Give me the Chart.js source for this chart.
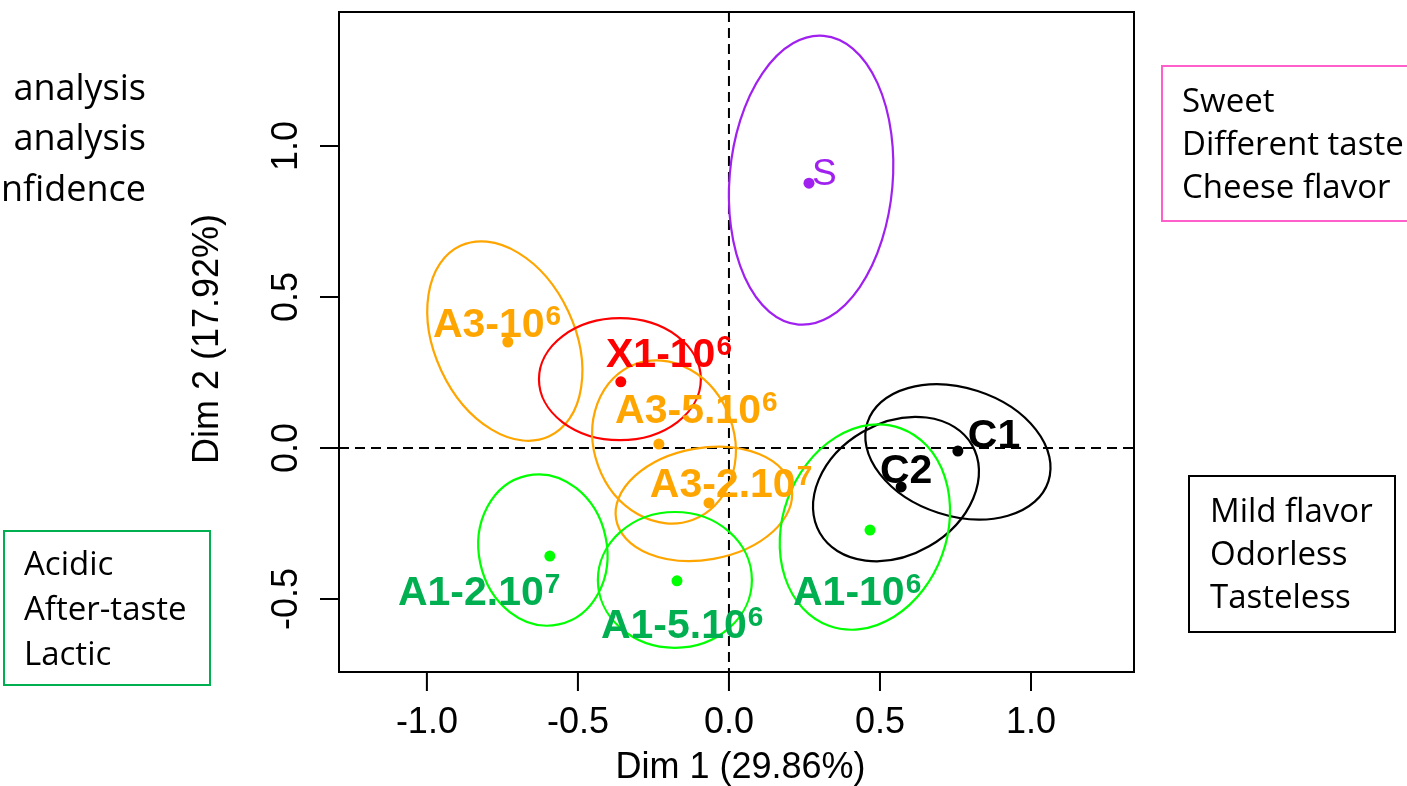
<!DOCTYPE html>
<html>
<head>
<meta charset="utf-8">
<script src="https://cdn.jsdelivr.net/npm/chart.js@4.4.0/dist/chart.umd.min.js"></script>
<style>
  html, body { margin: 0; padding: 0; background: #fff; overflow: hidden; }
  canvas { display: block; }
</style>
</head>
<body>
<canvas id="c" width="1407" height="786"></canvas>
<script>
// individuals on the factor map
const names  = ['S', 'A3-10', 'X1-10', 'A3-5.10', 'A3-2.10', 'C1', 'C2', 'A1-10', 'A1-2.10', 'A1-5.10'];
const powers = ['', '6', '6', '6', '7', '', '', '6', '7', '6'];
const groups = ['S', 'A3', 'X1', 'A3', 'A3', 'C', 'C', 'A1', 'A1', 'A1'];
const dim1   = [0.265, -0.732, -0.358, -0.232, -0.066, 0.758, 0.570, 0.467, -0.593, -0.172];
const dim2   = [0.877, 0.351, 0.219, 0.013, -0.182, -0.010, -0.129, -0.272, -0.358, -0.440];

// confidence ellipses: centre, semi axes, rotation in degrees
const ellX   = [0.272, -0.742, -0.361, -0.215, -0.083, 0.758, 0.553, 0.450, -0.616, -0.179];
const ellY   = [0.887, 0.354, 0.228, 0.020, -0.185, -0.013, -0.136, -0.262, -0.338, -0.437];
const ellA   = [0.270, 0.232, 0.268, 0.232, 0.295, 0.315, 0.291, 0.272, 0.212, 0.255];
const ellB   = [0.480, 0.348, 0.202, 0.275, 0.185, 0.212, 0.219, 0.348, 0.252, 0.225];
const ellAng = [-5, 25, 0, 20, 10, -18, 30, -20, 12, 0];

// where each label starts (left edge, baseline)
const labX   = [0.275, -0.980, -0.407, -0.377, -0.262, 0.791, 0.500, 0.212, -1.096, -0.424];
const labY   = [0.871, 0.368, 0.268, 0.083, -0.162, 0.000, -0.116, -0.520, -0.520, -0.629];

const xTicks = [-1.0, -0.5, 0.0, 0.5, 1.0];
const yTicks = [-0.5, 0.0, 0.5, 1.0];

const pointCol = { S: '#A020F0', A3: '#FFA500', X1: '#FF0000', C: '#000000', A1: '#00FF00' };
const labelCol = { S: '#A020F0', A3: '#FFA500', X1: '#FF0000', C: '#000000', A1: '#00B050' };

const AXFONT = '36px "Liberation Sans", Arial, sans-serif';
const TXFONT = '"Open Sans", sans-serif';

const mapPlugin = {
    id: 'factormap',
    beforeDatasetsDraw(chart) {
        const ctx = chart.ctx, a = chart.chartArea;
        const x = chart.scales.x, y = chart.scales.y;
        ctx.save();
        ctx.beginPath();
        ctx.rect(a.left, a.top, a.right - a.left, a.bottom - a.top);
        ctx.clip();

        // dashed origin lines
        ctx.strokeStyle = '#000';
        ctx.lineWidth = 2;
        ctx.setLineDash([10, 6]);
        ctx.beginPath();
        ctx.moveTo(x.getPixelForValue(0), a.top);
        ctx.lineTo(x.getPixelForValue(0), a.bottom);
        ctx.moveTo(a.left, y.getPixelForValue(0));
        ctx.lineTo(a.right, y.getPixelForValue(0));
        ctx.stroke();
        ctx.setLineDash([]);

        const sx = x.getPixelForValue(1) - x.getPixelForValue(0);
        const sy = y.getPixelForValue(0) - y.getPixelForValue(1);
        for (let i = 0; i < names.length; i++) {
            ctx.save();
            ctx.translate(x.getPixelForValue(ellX[i]), y.getPixelForValue(ellY[i]));
            ctx.scale(sx, -sy);
            ctx.rotate(ellAng[i] * Math.PI / 180);
            ctx.beginPath();
            ctx.ellipse(0, 0, ellA[i], ellB[i], 0, 0, 2 * Math.PI);
            ctx.restore();
            ctx.strokeStyle = pointCol[groups[i]];
            ctx.lineWidth = 2.2;
            ctx.stroke();
        }
        ctx.restore();
    },
    afterDatasetsDraw(chart) {
        const ctx = chart.ctx;
        const x = chart.scales.x, y = chart.scales.y;
        ctx.save();
        ctx.textBaseline = 'alphabetic';
        ctx.textAlign = 'left';
        for (let i = 0; i < names.length; i++) {
            const px = x.getPixelForValue(labX[i]);
            const py = y.getPixelForValue(labY[i]);
            ctx.fillStyle = labelCol[groups[i]];
            ctx.font = groups[i] === 'S'
                ? '37px "Liberation Sans", Arial, sans-serif'
                : 'bold 41px "Liberation Sans", Arial, sans-serif';
            ctx.fillText(names[i], px, py);
            if (powers[i]) {
                const w = ctx.measureText(names[i]).width;
                ctx.font = 'bold 28px "Liberation Sans", Arial, sans-serif';
                ctx.fillText(powers[i], px + w + 1, py - 12);
            }
        }
        ctx.restore();
    },
    afterDraw(chart) {
        const ctx = chart.ctx, a = chart.chartArea;
        const x = chart.scales.x, y = chart.scales.y;
        ctx.save();
        ctx.strokeStyle = '#000';
        ctx.lineWidth = 2;
        ctx.strokeRect(a.left, a.top, a.right - a.left, a.bottom - a.top);

        ctx.fillStyle = '#000';
        ctx.font = AXFONT;
        ctx.textAlign = 'center';
        ctx.textBaseline = 'alphabetic';
        ctx.beginPath();
        xTicks.forEach(v => {
            const px = x.getPixelForValue(v);
            ctx.moveTo(px, a.bottom);
            ctx.lineTo(px, a.bottom + 19);
            ctx.fillText(v.toFixed(1), px, 733);
        });
        yTicks.forEach(v => {
            const py = y.getPixelForValue(v);
            ctx.moveTo(a.left, py);
            ctx.lineTo(a.left - 19, py);
            ctx.save();
            ctx.translate(297, py);
            ctx.rotate(-Math.PI / 2);
            ctx.fillText(v.toFixed(1), 0, 0);
            ctx.restore();
        });
        ctx.stroke();

        // axis titles
        ctx.fillText('Dim 1 (29.86%)', (a.left + a.right) / 2 + 4, 778);
        ctx.save();
        ctx.translate(218, (a.top + a.bottom) / 2 - 3);
        ctx.rotate(-Math.PI / 2);
        ctx.fillText('Dim 2 (17.92%)', 0, 0);
        ctx.restore();

        // cut-off caption on the left
        ctx.textAlign = 'right';
        ctx.font = '36px ' + TXFONT;
        ctx.fillText('analysis', 146, 100);
        ctx.fillText('analysis', 146, 150);
        ctx.fillText('nfidence', 146, 201);

        // descriptor boxes
        ctx.textAlign = 'left';
        ctx.font = '33px ' + TXFONT;
        ctx.lineWidth = 2;
        ctx.strokeStyle = '#FF5FCB';
        ctx.strokeRect(1162, 66, 260, 155);
        ['Sweet', 'Different taste', 'Cheese flavor'].forEach((t, k) => ctx.fillText(t, 1182, 112 + 43 * k));
        ctx.strokeStyle = '#000';
        ctx.strokeRect(1189, 476, 206, 156);
        ['Mild flavor', 'Odorless', 'Tasteless'].forEach((t, k) => ctx.fillText(t, 1210, 522 + 43 * k));
        ctx.strokeStyle = '#00B050';
        ctx.strokeRect(4, 531, 206, 154);
        ['Acidic', 'After-taste', 'Lactic'].forEach((t, k) => ctx.fillText(t, 24, 575 + 45 * k));
        ctx.restore();
    }
};

const ctx = document.getElementById('c').getContext('2d');
new Chart(ctx, {
    type: 'scatter',
    data: {
        datasets: [{
            data: dim1.map((v, i) => ({ x: v, y: dim2[i] })),
            pointBackgroundColor: groups.map(g => pointCol[g]),
            pointBorderWidth: 0,
            pointRadius: 5.5
        }]
    },
    options: {
        responsive: false,
        devicePixelRatio: 1,
        animation: false,
        layout: { padding: { left: 339, right: 273, top: 12, bottom: 114 } },
        scales: {
            x: { type: 'linear', min: -1.291, max: 1.341, display: false },
            y: { type: 'linear', min: -0.742, max: 1.444, display: false }
        },
        plugins: { legend: { display: false }, tooltip: { enabled: false } }
    },
    plugins: [mapPlugin]
});
</script>
</body>
</html>
